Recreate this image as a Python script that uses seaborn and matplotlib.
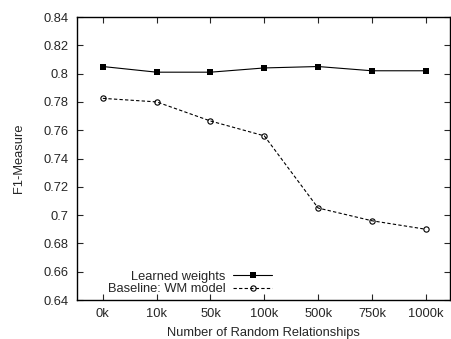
import pandas as pd
import numpy as np
import matplotlib
matplotlib.use("Agg")
import matplotlib.pyplot as plt
import seaborn as sns

labels = ["0k", "10k", "50k", "100k", "500k", "750k", "1000k"]
learned = [0.805, 0.801, 0.801, 0.804, 0.805, 0.802, 0.802]
baseline = [0.7825, 0.780, 0.7665, 0.756, 0.705, 0.696, 0.690]

sns.set_style("ticks")
plt.rcParams['font.family'] = ['Liberation Sans', 'DejaVu Sans']
plt.rcParams['xtick.direction'] = 'in'
plt.rcParams['ytick.direction'] = 'in'

fs = 9.3
pos = np.arange(len(labels))
df = pd.DataFrame({"pos": np.concatenate([pos, pos]),
                   "f1": learned + baseline,
                   "model": ["Learned weights"] * len(labels) + ["Baseline: WM model"] * len(labels)})

fig = plt.figure(figsize=(4.51, 3.39), dpi=100)
ax = fig.add_axes([77 / 451, 39 / 339, 373 / 451, 283 / 339])

sns.lineplot(data=df, x="pos", y="f1", hue="model", style="model",
             palette=["black", "black"], dashes=[(None, None), (3, 2)],
             markers=["s", "o"], markersize=5, linewidth=0.8, ax=ax)

ax.set_xlim(-0.48, 6.45)
ax.set_ylim(0.64, 0.84)
ax.set_xticks(pos)
ax.set_xticklabels(labels)
ax.set_yticks(np.arange(0.64, 0.841, 0.02))
ax.set_yticklabels(["0.64", "0.66", "0.68", "0.7", "0.72", "0.74", "0.76", "0.78", "0.8", "0.82", "0.84"])
ax.tick_params(axis="both", labelsize=fs, length=4, width=0.8, top=True, right=True, pad=6)
for s in ax.spines.values():
    s.set_linewidth(1.0)
    s.set_color("black")
ax.set_xlabel("Number of Random Relationships", fontsize=fs, labelpad=5)
ax.set_ylabel("F1-Measure", fontsize=fs, labelpad=13)

handles, lbls = ax.get_legend_handles_labels()
ax.legend(handles, lbls, loc="lower right", bbox_to_anchor=(0.547, -0.016), frameon=False,
          markerfirst=False, fontsize=fs, handlelength=3.0, handletextpad=0.6,
          labelspacing=0.05, borderaxespad=0.3)

for line in ax.lines + ax.get_legend().get_lines():
    if line.get_marker() == "o":
        line.set_markerfacecolor("none")
        line.set_markeredgecolor("black")
        line.set_markeredgewidth(0.8)
        line.set_markersize(3.8)
    elif line.get_marker() == "s":
        line.set_markeredgewidth(0)

fig.savefig("out.png", dpi=100)
